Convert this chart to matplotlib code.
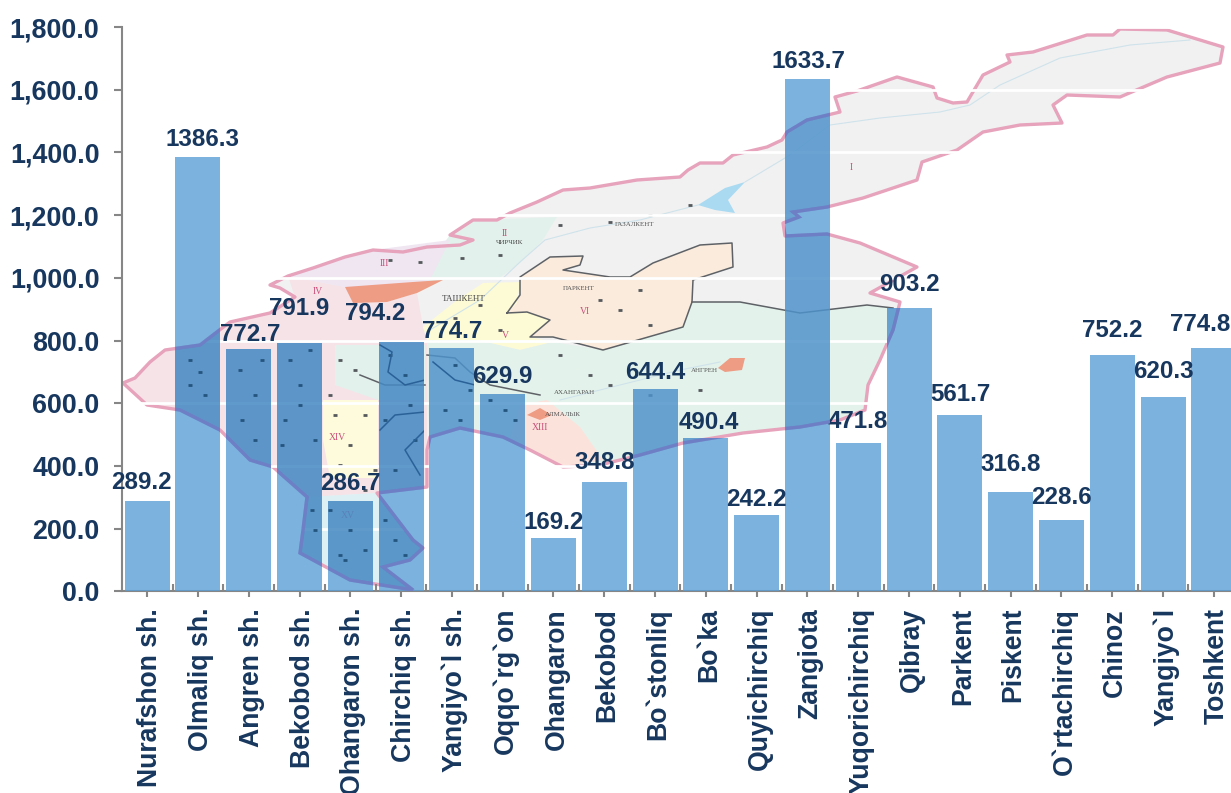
import matplotlib
matplotlib.use("Agg")
import matplotlib.pyplot as plt
from matplotlib.patches import Polygon
from matplotlib.ticker import FuncFormatter, FixedLocator
from matplotlib.transforms import offset_copy

categories = ["Nurafshon sh.", "Olmaliq sh.", "Angren sh.", "Bekobod sh.", "Ohangaron sh.", "Chirchiq sh.",
              "Yangiyo`l sh.", "Oqqo`rg`on", "Ohangaron", "Bekobod", "Bo`stonliq", "Bo`ka", "Quyichirchiq",
              "Zangiota", "Yuqorichirchiq", "Qibray", "Parkent", "Piskent", "O`rtachirchiq", "Chinoz",
              "Yangiyo`l", "Toshkent"]
values = [289.2, 1386.3, 772.7, 791.9, 286.7, 794.2, 774.7, 629.9, 169.2, 348.8, 644.4, 490.4, 242.2,
          1633.7, 471.8, 903.2, 561.7, 316.8, 228.6, 752.2, 620.3, 774.8]
# manual data-label offsets from the bar top centre, in pixels
label_dx = [-6, 5, 1, 0, 0, -26, 0, 0, 0, 0, 0, 3, 0, 1, 0, 0, 0, 0, 0, 0, 0, -14]
label_dy = [18, 17, 15, 35, 18, 29, 17, 17, 16, 19, 17, 15, 16, 18, 22, 24, 21, 27, 22, 25, 25, 24]

W, H = 1231, 793
NAVY = "#17375E"
plt.rcParams["font.family"] = ["Liberation Sans", "DejaVu Sans"]
fig = plt.figure(figsize=(W / 100, H / 100), dpi=100, facecolor="white")

# ---------- decorative background map (pixel space) ----------
m = fig.add_axes([0, 0, 1, 1], zorder=0)
m.set_xlim(0, W); m.set_ylim(H, 0); m.axis("off")

outline = [(123,383),(135,378),(150,362),(165,350),(200,345),(230,322),(270,313),(295,297),(280,288),(270,285),(288,276),(313,268),
    (345,257),(373,250),(403,252),(427,247),(460,245),(473,240),(450,235),(473,220),(497,220),(510,213),(537,202),
    (563,190),(590,188),(637,180),(680,177),(688,170),(700,163),(723,163),(733,155),(767,147),(782,140),(787,132),
    (807,120),(840,112),(835,97),(857,91),(897,77),(933,87),(937,98),(953,103),(967,102),(983,75),(1010,62),(1007,55),
    (1033,52),(1087,35),(1113,35),(1120,29),(1167,30),(1200,40),(1223,47),(1220,63),(1167,77),(1120,97),(1067,95),
    (1053,105),(1062,123),(1020,125),(983,132),(957,150),(922,162),(917,180),(863,198),(827,207),(793,212),(799,217),
    (783,223),(785,236),(827,234),(860,243),(917,267),(870,293),(900,302),(893,330),(880,360),(868,385),(865,410),
    (840,420),(800,427),(743,433),(683,443),(640,455),(600,465),(563,467),(530,450),(503,437),(460,428),(430,437),
    (427,450),(427,487),(377,493),(413,540),(423,548),(410,560),(383,567),(413,590),(350,580),(300,553),(303,530),
    (307,497),(273,467),(250,460),(220,430),(180,410),(147,405)]
west = [(123,383),(135,378),(150,362),(165,350),(200,345),(230,322),(270,313),(295,297),(345,287),(353,303),(387,302),
        (417,293),(423,327),(427,340),(427,487),(377,493),(413,540),(423,548),(410,560),(383,567),(413,590),(350,580),
        (300,553),(303,530),(307,497),(273,467),(250,460),(220,430),(180,410),(147,405)]
regions = [
    ("#F6E3E8", [(123,383),(135,378),(150,362),(165,350),(200,345),(230,322),(270,313),(295,297),(288,276),(345,287),
                 (353,303),(387,302),(417,293),(423,327),(427,340),(427,487),(377,493),(307,497),(273,467),(250,460),
                 (220,430),(180,410),(147,405)]),
    ("#E3F1EC", [(450,235),(473,220),(557,217),(543,240),(520,263),(497,280),(443,280),(417,293),(420,275)]),
    ("#EFE6F2", [(288,276),(373,250),(450,240),(430,280),(380,295),(345,287)]),
    ("#FBEBDC", [(507,313),(520,295),(520,277),(550,257),(583,256),(580,265),(563,270),(610,277),(630,277),(653,263),
                 (700,245),(732,243),(733,267),(693,280),(692,302),(683,327),(603,350),(553,337),(530,337),(550,320),(527,312)]),
    ("#FDFBD6", [(423,327),(457,300),(483,283),(520,282),(517,303),(507,313),(527,312),(550,320),(530,337),(553,342),
                 (520,350),(477,340),(427,340)]),
    ("#E3F2EB", [(427,340),(477,340),(520,350),(553,342),(603,350),(683,327),(692,302),(740,302),(800,313),(867,305),
                 (893,308),(893,330),(880,360),(868,385),(865,410),(840,420),(800,427),(743,433),(683,443),(640,455),
                 (600,465),(563,467),(503,437),(460,428),(430,437),(427,400)]),
    ("#FBE3DC", [(520,405),(547,400),(580,427),(603,460),(563,467),(530,450),(510,438)]),
    ("#DDF0F3", [(377,493),(413,540),(423,548),(410,560),(383,567),(413,590),(350,580),(300,553),(303,530),(307,497)]),
    ("#FDFBDC", [(323,400),(378,400),(378,478),(330,478),(323,440)]),
    ("#E3F1EC", [(335,345),(425,345),(425,400),(378,400),(335,385)]),
    ("#EE9C84", [(345,287),(413,282),(443,280),(417,293),(387,302),(353,303)]),
    ("#EE9C84", [(718,368),(730,358),(745,358),(742,370),(725,372)]),
    ("#EE9C84", [(527,415),(540,408),(552,415),(540,420)]),
    ("#A9DAF1", [(698,205),(725,188),(745,182),(728,200),(735,213),(715,210)]),
]
m.add_patch(Polygon(outline, closed=True, facecolor="#F1F1F2", edgecolor="none"))
for col, pts in regions:
    m.add_patch(Polygon(pts, closed=True, facecolor=col, edgecolor="none"))
m.add_patch(Polygon(outline, closed=True, facecolor="none", edgecolor="#E6A3BB", linewidth=2.4, joinstyle="round"))

borders = [
    [(507,313),(520,295),(520,277),(550,257),(583,256),(580,265),(563,270),(610,277),(630,277),(653,263),(700,245),
     (732,243),(733,267),(693,280),(692,302),(683,327),(603,350),(553,337),(530,337),(550,320),(527,312),(507,313)],
    [(692,302),(740,302),(800,313),(867,305),(893,308)],
    [(427,355),(455,358),(470,372),(490,385),(540,395)],
    [(360,375),(385,385),(425,385)],
]
for b in borders:
    m.plot(*zip(*b), color="#5E6266", lw=1.1, zorder=3)
rivers = [
    [(430,330),(480,300),(520,262),(545,240),(590,228),(640,220),(698,205)],
    [(745,182),(790,155),(830,125),(880,118),(940,112),(970,105),(1000,85),(1060,58),(1130,45),(1190,40)],
    [(560,400),(620,385),(680,370),(720,362)],
]
for r in rivers:
    m.plot(*zip(*r), color="#CFE3EA", lw=0.8, zorder=3)
specks = [(390,260),(420,262),(462,258),(500,255),(560,225),(610,222),(650,215),(690,205),(600,300),(640,290),
          (620,310),(650,325),(480,305),(500,330),(455,318),(560,355),(590,375),(610,385),(650,395),(700,390),
          (340,360),(355,370),(335,415),(350,445),(365,415),(340,465),(375,470),(365,490),(330,395)]
m.scatter(*zip(*specks), s=9, marker="_", linewidths=2.0, color="#55595C", zorder=3)

map_labels = [("ТАШКЕНТ", 464, 299, 6.5, "#444444"), ("ПАРКЕНТ", 579, 288, 5, "#555555"), ("ГАЗАЛКЕНТ", 635, 225, 5, "#555555"),
              ("ЧИРЧИК", 510, 242, 5, "#444444"), ("АНГРЕН", 704, 370, 5, "#555555"), ("АХАНГАРАН", 574, 393, 5, "#555555"),
              ("АЛМАЛЫК", 563, 414, 5, "#555555"), ("II", 505, 234, 7, "#C9507A"), ("III", 384, 263, 7, "#C9507A"),
              ("IV", 318, 291, 7, "#C9507A"), ("V", 505, 336, 7, "#C9507A"), ("VI", 585, 311, 7, "#C9507A"),
              ("XIII", 540, 427, 7, "#C9507A"), ("XIV", 337, 437, 7, "#C9507A"), ("XV", 348, 515, 7, "#C9507A"),
              ("I", 851, 167, 7, "#C9507A")]
for s, x, y, fs, c in map_labels:
    m.text(x, y, s, fontsize=fs, color=c, ha="center", va="center", family="Liberation Serif", zorder=4)

# ---------- chart ----------
y0, y1800 = 591.3, 27.0
left, step = 121.7, 50.8
right = left + step * len(categories)
ax = fig.add_axes([left / W, 1 - y0 / H, (right - left) / W, (y0 - y1800) / H], zorder=1)
ax.set_facecolor("none")
x = list(range(len(categories)))
ax.set_axisbelow(True)
ax.yaxis.grid(True, color="white", lw=2)
bars = ax.bar(x, values, width=0.886, color="#5A9FD6", alpha=0.8, linewidth=0, zorder=3)
ax.set_xlim(-0.5, len(categories) - 0.5)
ax.set_ylim(0, 1800)
ax.set_yticks(range(0, 1801, 200))
ax.yaxis.set_major_formatter(FuncFormatter(lambda v, _: f"{v:,.1f}"))
ax.set_xticks(x)
ax.set_xticklabels(categories, rotation=90, ha="center", va="top", fontsize=19.2, fontweight="bold", color=NAVY)
ax.xaxis.set_minor_locator(FixedLocator([i - 0.5 for i in range(1, len(categories) + 1)]))
for lab in ax.get_yticklabels():
    lab.set_fontsize(19.4); lab.set_fontweight("bold"); lab.set_color(NAVY)
ax.tick_params(axis="y", length=5.5, width=1.5, color="#868686", pad=10.5)
ax.tick_params(axis="x", which="major", length=4, width=1.5, color="#868686", pad=8)
ax.tick_params(axis="x", which="minor", direction="in", length=5, width=1.5, color="#868686")
for lab in ax.get_xticklabels():
    lab.set_transform(offset_copy(lab.get_transform(), fig=fig, x=3, y=0, units="dots"))
for s in ("top", "right"):
    ax.spines[s].set_visible(False)
for s in ("left", "bottom"):
    ax.spines[s].set_color("#868686"); ax.spines[s].set_linewidth(1.5)

# map showing through the translucent bars (the bars tint it more strongly than plain alpha)
ov = fig.add_axes([0, 0, 1, 1], zorder=2, facecolor="none")
ov.set_xlim(0, W); ov.set_ylim(H, 0); ov.axis("off")
under_specks = [(190,385),(200,372),(240,370),(255,395),(262,360),(290,360),(300,385),(285,420),(310,350),(315,440),
                (300,405),(282,445),(390,355),(410,405),(415,440),(395,470),(405,375),(385,420),(330,510),(350,530),
                (365,550),(345,560),(385,520),(395,540),(405,555),(340,555),(315,530),(312,510),(455,365),(470,390),
                (445,410),(460,420),(505,410),(490,400),(515,420),(242,420),(255,440),(190,360),(205,395)]
under_lines = [[(380,345),(392,352),(388,372),(405,385),(425,380)],
               [(380,430),(395,415),(425,412)], [(420,475),(405,450),(425,430)],
               [(433,362),(455,380),(475,385)]]
for b in bars:
    for pts, col, a in ((outline, "#2B6CAB", 0.20), (west, "#1F5E9E", 0.14)):
        p = Polygon(pts, closed=True, facecolor=col, alpha=a, edgecolor="none")
        ov.add_patch(p); p.set_clip_path(b)
    p = Polygon(outline, closed=True, facecolor="none", edgecolor="#6E7FC6", linewidth=2.4)
    ov.add_patch(p); p.set_clip_path(b)
    sc = ov.scatter(*zip(*under_specks), s=12, marker="_", linewidths=2.0, color="#24557F")
    sc.set_clip_path(b)
    for ln in under_lines:
        l, = ov.plot(*zip(*ln), color="#2A6197", lw=1.1)
        l.set_clip_path(b)
ov.set_xlim(0, W); ov.set_ylim(H, 0)

for xi, v, dx, dy in zip(x, values, label_dx, label_dy):
    ax.annotate(f"{v:.1f}", (xi, v), xytext=(dx, dy), textcoords="offset pixels", ha="center", va="center",
                fontsize=17.4, fontweight="bold", color=NAVY, zorder=5, annotation_clip=False)

fig.savefig("out.png", dpi=100)
